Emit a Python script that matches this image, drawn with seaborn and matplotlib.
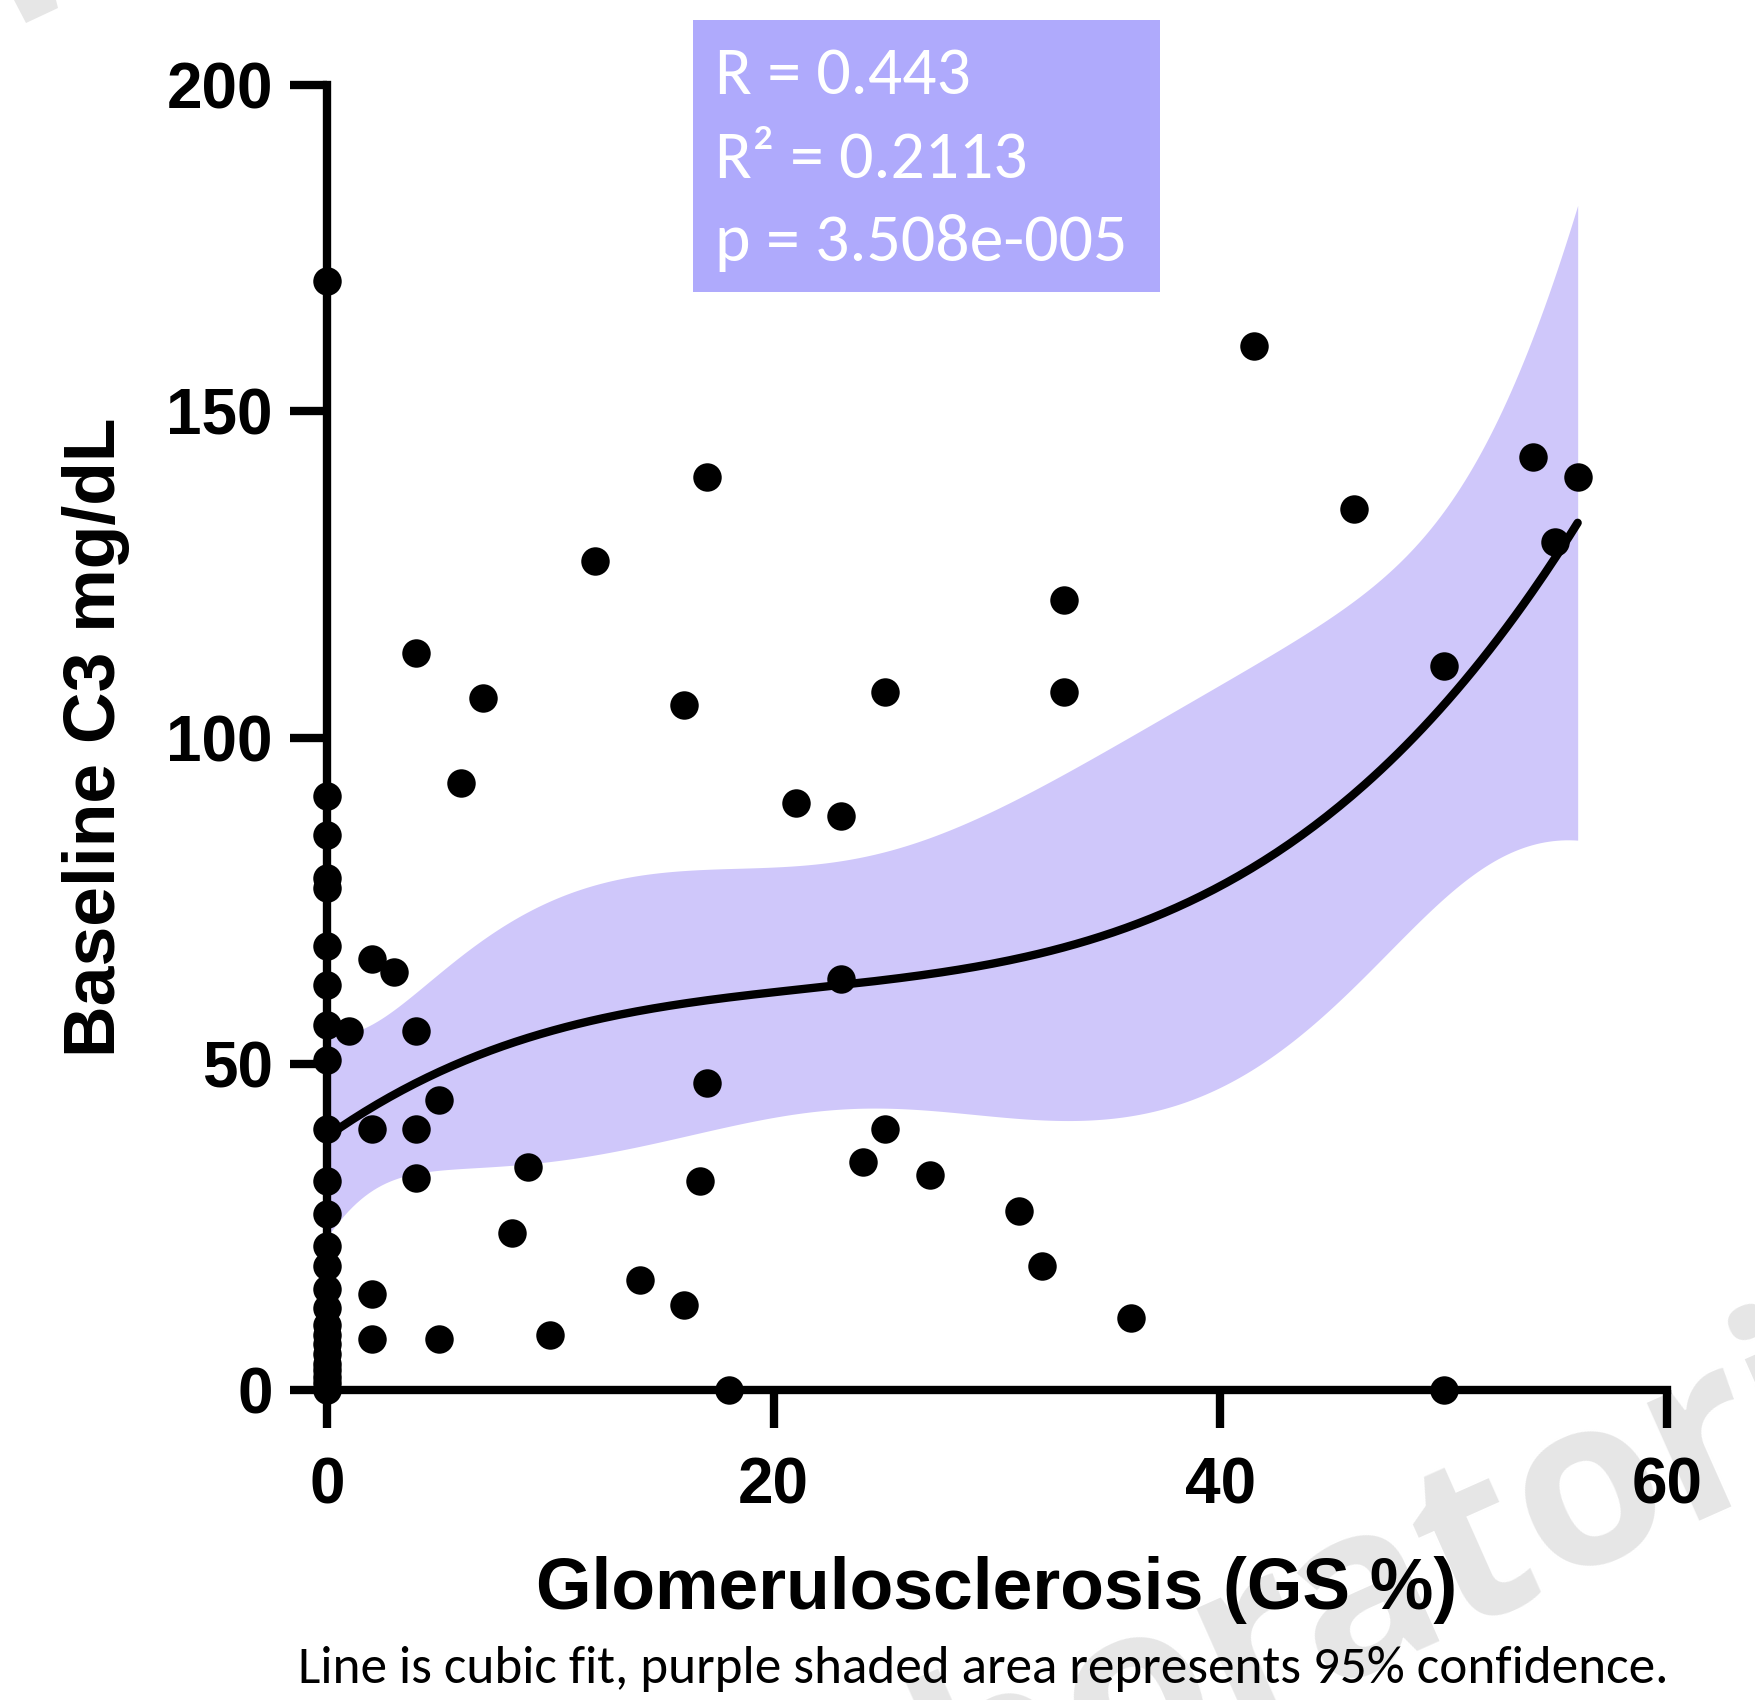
import numpy as np
import pandas as pd
import matplotlib
matplotlib.use("Agg")
import matplotlib.pyplot as plt
from matplotlib.patches import Rectangle, Polygon
import seaborn as sns

# ---------------- data ----------------
gs_zero_c3 = [170, 91, 85, 78.5, 77, 68, 62, 56, 50.5, 40, 32, 27, 22, 19,
              15.5, 12.5, 10, 8.5, 7, 5.5, 4, 3, 2, 1, 0]
gs_other = [1, 2, 3, 4, 4, 4, 4, 2, 5, 2, 2, 5, 6, 7, 8.3, 9, 10, 12, 14,
            16, 16, 17, 17, 16.7, 18, 21, 23, 23, 24, 25, 25, 27, 31, 32,
            33, 33, 36, 41.5, 46, 50, 50, 54, 55, 56]
c3_other = [55, 66, 64, 113, 55, 40, 32.5, 40, 44.5, 14.7, 7.8, 7.8, 93, 106,
            24, 34.2, 8.4, 127, 16.8, 105, 13, 140, 47, 32, 0, 90, 88, 63, 35,
            107, 40, 33, 27.5, 19, 121, 107, 11, 160, 135, 111, 0, 143, 130, 140]

gs = [0] * len(gs_zero_c3) + gs_other
c3 = gs_zero_c3 + c3_other
df = pd.DataFrame({"gs": gs, "c3": c3})

x_ticks = [0, 20, 40, 60]
y_ticks = [0, 50, 100, 150, 200]
x_label = "Glomerulosclerosis (GS %)"
y_label = "Baseline C3 mg/dL"
stats_lines = ["R = 0.443", "R\u00b2 = 0.2113", "p = 3.508e-005"]
caption = "Line is cubic fit, purple shaded area represents 95% confidence."
watermark_left = "Laborat"
watermark_right = "ories"

band_color = "#CFC7FA"
box_color = "#AFAAFC"
wm_color = "#E6E6E6"

# ---------------- cubic fit + analytic 95% confidence band ----------------
xv = df["gs"].to_numpy(float)
yv = df["c3"].to_numpy(float)
X = np.vander(xv, 4)
beta, *_ = np.linalg.lstsq(X, yv, rcond=None)
resid = yv - X @ beta
dof = len(xv) - 4
s2 = resid @ resid / dof
cov = s2 * np.linalg.inv(X.T @ X)
xg = np.linspace(xv.min(), xv.max(), 300)
G = np.vander(xg, 4)
yhat = G @ beta
se = np.sqrt(np.einsum("ij,jk,ik->i", G, cov, G))
t_crit = 2.0
fit = pd.DataFrame({"gs": xg, "fit": yhat, "lo": yhat - t_crit * se,
                    "hi": yhat + t_crit * se})

# ---------------- style ----------------
sns.set_style("ticks")
plt.rcParams["font.family"] = ["Liberation Sans", "DejaVu Sans"]
for k in ["text.color", "axes.labelcolor", "xtick.color", "ytick.color",
          "axes.edgecolor"]:
    plt.rcParams[k] = "black"

W, H = 1756, 1700
fig = plt.figure(figsize=(W / 100, H / 100), dpi=100)
ax = fig.add_axes([327 / W, 1 - 1390 / H, 1340 / W, 1305 / H])
ax.patch.set_visible(False)

# watermark (behind everything), anchored at the baseline start of the "o"
wm_kw = dict(rotation=24, rotation_mode="anchor", va="baseline", fontsize=170,
             color=wm_color, family=["Open Sans", "DejaVu Sans"],
             fontweight="bold", zorder=-5)
wx, wy = 1549 / W, 1 - 1583 / H
fig.text(wx, wy, watermark_right, ha="left", **wm_kw)
fig.text(wx, wy, watermark_left, ha="right", **wm_kw)
corner = [(14, 0), (56, 0), (58, 8), (26, 23)]
fig.patches.append(Polygon([(px / W, 1 - py / H) for px, py in corner], closed=True,
                           transform=fig.transFigure, facecolor=wm_color,
                           edgecolor="none", zorder=-5))

# confidence band and fit line
ax.fill_between(fit["gs"], fit["lo"], fit["hi"], color=band_color, lw=0, zorder=1)
sns.lineplot(data=fit, x="gs", y="fit", color="black", lw=6, zorder=3, ax=ax)

sns.scatterplot(data=df, x="gs", y="c3", color="black", s=420, linewidth=0,
                clip_on=False, zorder=5, ax=ax)

ax.set_xlim(0, 60)
ax.set_ylim(0, 200)
ax.set_xticks(x_ticks)
ax.set_yticks(y_ticks)
for side in ["top", "right"]:
    ax.spines[side].set_visible(False)
for side in ["left", "bottom"]:
    ax.spines[side].set_linewidth(6)
    ax.spines[side].set_color("black")
    ax.spines[side].set_capstyle("projecting")
ax.tick_params(axis="both", length=27, width=6, color="black", labelsize=46,
               direction="out", bottom=True, left=True, labelcolor="black")
ax.tick_params(axis="y", pad=12)
ax.tick_params(axis="x", pad=21)
for lab in ax.get_xticklabels() + ax.get_yticklabels():
    lab.set_fontweight("bold")

ax.set_xlabel(x_label, fontsize=51.5, fontweight="bold", color="black")
ax.set_ylabel(y_label, fontsize=51.5, fontweight="bold", color="black")
ax.xaxis.set_label_coords(0.5, -0.127)
ax.yaxis.set_label_coords(-0.147, 0.5)

# stats box
fig.patches.append(Rectangle((693 / W, 1 - 292 / H), (1160 - 693) / W, (292 - 20) / H,
                             transform=fig.transFigure, facecolor=box_color,
                             edgecolor="none", zorder=6))
baselines = [94, 178, 261]
stat_texts = []
for txt, yb in zip(stats_lines, baselines):
    stat_texts.append(fig.text(715 / W, 1 - yb / H, txt, ha="left", va="baseline",
                               fontsize=44, color="white",
                               family=["Carlito", "Lato", "DejaVu Sans"], zorder=7))

# caption
cap = fig.text(983 / W, 1 - 1683 / H, caption, ha="center", va="baseline",
               fontsize=33, color="black", family=["Carlito", "Lato", "DejaVu Sans"])

# fit text widths to the reference
fig.canvas.draw()
w = cap.get_window_extent().width
cap.set_fontsize(33 * 1372 / w)
w3 = stat_texts[2].get_window_extent().width
for t in stat_texts:
    t.set_fontsize(44 * 413 / w3)

fig.savefig("out.png", dpi=100)
